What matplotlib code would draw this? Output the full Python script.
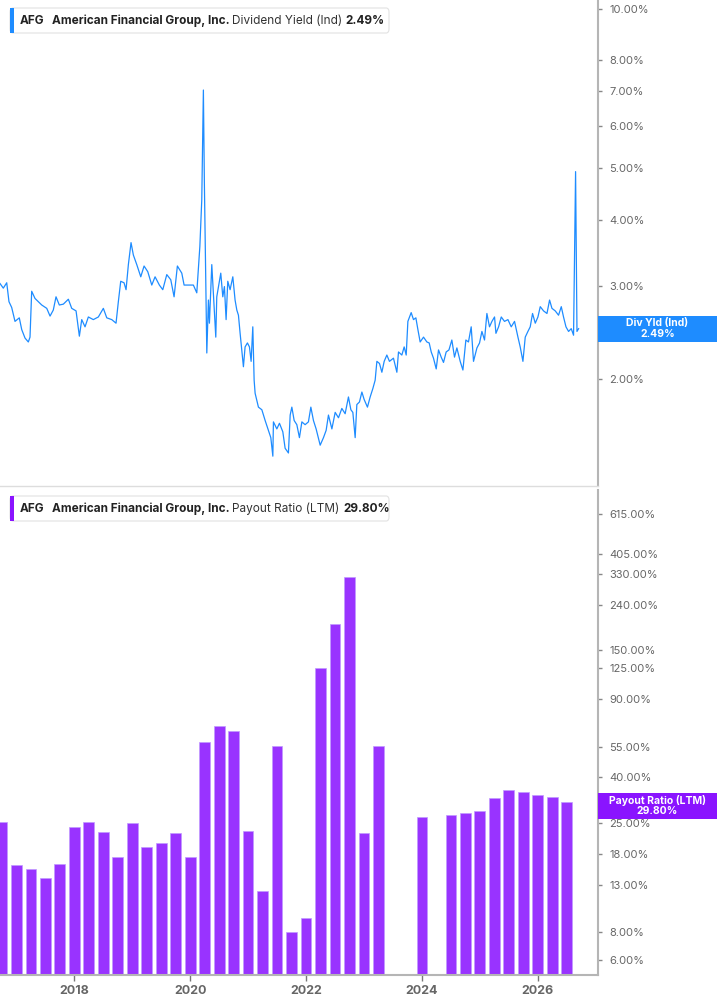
import numpy as np
import matplotlib.pyplot as plt
from matplotlib.patches import Rectangle, FancyBboxPatch
from matplotlib.ticker import FixedLocator, NullLocator

plt.rcParams['font.family'] = ['Inter', 'DejaVu Sans']

W, H = 717, 1005

# Dividend yield (Ind), % -- dates as decimal years
yld_dates = [
    2016.717, 2016.774, 2016.833, 2016.872, 2016.919, 2016.976, 2017.050, 2017.092, 2017.149, 2017.206,
    2017.235, 2017.264, 2017.321, 2017.378, 2017.437, 2017.524, 2017.581, 2017.637, 2017.684, 2017.741,
    2017.810, 2017.897, 2017.955, 2018.030, 2018.087, 2018.128, 2018.185, 2018.242, 2018.328, 2018.415,
    2018.501, 2018.560, 2018.646, 2018.720, 2018.760, 2018.801, 2018.858, 2018.893, 2018.933, 2018.979,
    2019.019, 2019.078, 2019.147, 2019.204, 2019.268, 2019.337, 2019.394, 2019.468, 2019.527, 2019.596,
    2019.665, 2019.722, 2019.779, 2019.855, 2019.895, 2019.969, 2020.055, 2020.114, 2020.167, 2020.200,
    2020.228, 2020.245, 2020.275, 2020.287, 2020.315, 2020.332, 2020.373, 2020.413, 2020.442, 2020.459,
    2020.499, 2020.528, 2020.563, 2020.591, 2020.620, 2020.649, 2020.689, 2020.736, 2020.775, 2020.805,
    2020.833, 2020.862, 2020.891, 2020.919, 2020.948, 2020.988, 2021.023, 2021.052, 2021.081, 2021.104,
    2021.121, 2021.178, 2021.237, 2021.294, 2021.351, 2021.392, 2021.427, 2021.437, 2021.496, 2021.541,
    2021.599, 2021.639, 2021.696, 2021.726, 2021.755, 2021.795, 2021.841, 2021.886, 2021.928, 2021.984,
    2022.041, 2022.083, 2022.128, 2022.174, 2022.244, 2022.301, 2022.347, 2022.387, 2022.446, 2022.503,
    2022.560, 2022.618, 2022.675, 2022.732, 2022.774, 2022.808, 2022.848, 2022.877, 2022.922, 2022.964,
    2023.003, 2023.060, 2023.107, 2023.154, 2023.193, 2023.223, 2023.268, 2023.309, 2023.349, 2023.395,
    2023.440, 2023.509, 2023.568, 2023.596, 2023.654, 2023.694, 2023.729, 2023.758, 2023.815, 2023.855,
    2023.896, 2023.931, 2023.970, 2024.028, 2024.086, 2024.126, 2024.161, 2024.200, 2024.247, 2024.287,
    2024.333, 2024.373, 2024.419, 2024.467, 2024.517, 2024.563, 2024.604, 2024.661, 2024.708, 2024.759,
    2024.804, 2024.851, 2024.891, 2024.950, 2024.995, 2025.036, 2025.081, 2025.122, 2025.167, 2025.209,
    2025.254, 2025.278, 2025.324, 2025.370, 2025.426, 2025.485, 2025.542, 2025.599, 2025.658, 2025.697,
    2025.744, 2025.784, 2025.830, 2025.870, 2025.910, 2025.957, 2026.003, 2026.043, 2026.100, 2026.159,
    2026.204, 2026.245, 2026.302, 2026.359, 2026.406, 2026.445, 2026.487, 2026.532, 2026.578, 2026.618,
    2026.653, 2026.677, 2026.705,
]
yld_vals = [
    3.03, 2.97, 3.04, 2.80, 2.73, 2.57, 2.61, 2.48, 2.39, 2.35,
    2.40, 2.93, 2.84, 2.80, 2.76, 2.72, 2.63, 2.70, 2.86, 2.76,
    2.77, 2.83, 2.72, 2.69, 2.41, 2.59, 2.51, 2.62, 2.59, 2.62,
    2.72, 2.61, 2.59, 2.55, 2.80, 3.06, 3.04, 2.95, 3.29, 3.62,
    3.43, 3.29, 3.12, 3.27, 3.19, 3.01, 3.12, 3.01, 2.95, 3.15,
    3.08, 2.86, 3.27, 3.17, 3.01, 3.01, 3.01, 2.91, 3.56, 4.36,
    7.03, 4.69, 2.70, 2.24, 2.82, 2.55, 3.29, 2.74, 2.40, 2.86,
    3.04, 3.17, 2.86, 2.99, 2.59, 3.06, 2.95, 3.12, 2.82, 2.70,
    2.64, 2.44, 2.27, 2.11, 2.30, 2.34, 2.30, 2.16, 2.51, 1.99,
    1.88, 1.77, 1.75, 1.67, 1.60, 1.55, 1.43, 1.66, 1.61, 1.65,
    1.59, 1.48, 1.45, 1.71, 1.77, 1.67, 1.64, 1.55, 1.66, 1.64,
    1.66, 1.77, 1.67, 1.61, 1.50, 1.55, 1.60, 1.71, 1.61, 1.73,
    1.69, 1.76, 1.72, 1.85, 1.75, 1.73, 1.55, 1.79, 1.81, 1.89,
    1.83, 1.77, 1.85, 1.92, 1.99, 2.16, 2.14, 2.06, 2.16, 2.22,
    2.16, 2.19, 2.06, 2.25, 2.22, 2.30, 2.22, 2.57, 2.67, 2.59,
    2.61, 2.48, 2.35, 2.40, 2.35, 2.34, 2.25, 2.19, 2.09, 2.27,
    2.20, 2.15, 2.25, 2.27, 2.37, 2.20, 2.29, 2.16, 2.08, 2.37,
    2.35, 2.51, 2.16, 2.29, 2.34, 2.46, 2.37, 2.66, 2.51, 2.57,
    2.62, 2.44, 2.51, 2.62, 2.57, 2.59, 2.51, 2.57, 2.40, 2.30,
    2.16, 2.40, 2.46, 2.51, 2.66, 2.55, 2.62, 2.74, 2.69, 2.66,
    2.82, 2.72, 2.69, 2.64, 2.74, 2.62, 2.51, 2.46, 2.49, 2.42,
    4.93, 2.46, 2.49,
]

# Payout ratio (LTM), % -- quarterly
pay_dates = [
    2016.75, 2017.00, 2017.25, 2017.50, 2017.75, 2018.00, 2018.25, 2018.50, 2018.75, 2019.00,
    2019.25, 2019.50, 2019.75, 2020.00, 2020.25, 2020.50, 2020.75, 2021.00, 2021.25, 2021.50,
    2021.75, 2022.00, 2022.25, 2022.50, 2022.75, 2023.00, 2023.25, 2024.00, 2024.50, 2024.75,
    2025.00, 2025.25, 2025.50, 2025.75, 2026.00, 2026.25, 2026.50,
]
pay_vals = [
    24.1, 15.1, 14.4, 13.0, 15.3, 22.8, 24.1, 21.7, 16.5, 23.9,
    18.4, 19.2, 21.5, 16.4, 56.6, 67.4, 63.8, 22.0, 11.3, 54.6,
    7.0, 8.25, 123.0, 196.0, 319.0, 21.5, 54.3, 25.5, 25.9, 26.5,
    27.3, 31.3, 33.9, 33.4, 32.2, 31.7, 29.8,
]

yld_ticks = [2, 3, 4, 5, 6, 7, 8, 10]
pay_ticks = [6, 8, 13, 18, 25, 40, 55, 90, 125, 150, 240, 330, 405, 615]
year_ticks = [2018, 2020, 2022, 2024, 2026]

ticker = "AFG"
company = "American Financial Group, Inc."

BLUE = '#1e8cff'
PURPLE = '#9933ff'
PURPLE_DARK = '#8a14ff'


def px(x, y):
    # pixel position (top-left origin) -> figure fraction
    return x / W, 1 - y / H


fig = plt.figure(figsize=(W / 100, H / 100), dpi=100)
ax1 = fig.add_axes([0, 1 - 486 / H, 598 / W, 486 / H])
ax2 = fig.add_axes([0, 1 - 975 / H, 598 / W, 485 / H], sharex=ax1)

# top panel: dividend yield line
ax1.plot(yld_dates, yld_vals, color=BLUE, lw=0.9)
ax1.set_yscale('log')
ax1.set_ylim(1.256, 10.4)
ax1.set_xlim(2016.717, 2027.04)

# bottom panel: payout ratio bars
ax2.bar(pay_dates, pay_vals, width=0.185, bottom=1, color=PURPLE,
        edgecolor='#c09aff', linewidth=0.5)
ax2.set_yscale('log')
ax2.set_ylim(5.13, 791)

for ax, ticks in [(ax1, yld_ticks), (ax2, pay_ticks)]:
    ax.yaxis.tick_right()
    ax.yaxis.set_major_locator(FixedLocator(ticks))
    ax.yaxis.set_minor_locator(NullLocator())
    ax.set_yticklabels([f'{t:.2f}%' for t in ticks])
    ax.tick_params(axis='y', which='major', length=3, width=1, color='#888888',
                   labelcolor='#666666', labelsize=8, pad=5)
    ax.spines['left'].set_visible(False)
    ax.spines['top'].set_visible(False)
    ax.spines['right'].set_color('#b5b5b5')
    ax.spines['right'].set_linewidth(1.5)
    ax.set_facecolor('none')

ax1.tick_params(axis='x', bottom=False, labelbottom=False)
ax1.spines['bottom'].set_color('#dddddd')
ax1.spines['bottom'].set_linewidth(1)

ax2.set_xticks(year_ticks, labels=[str(y) for y in year_ticks], fontweight='bold')
ax2.xaxis.set_minor_locator(NullLocator())
ax2.tick_params(axis='x', length=4, width=1, color='#777777', labelcolor='#666666',
                labelsize=9, pad=3)
ax2.spines['bottom'].set_color('#b5b5b5')
ax2.spines['bottom'].set_linewidth(1.5)


# legend boxes at the top left of each panel
def legend_box(top, color, metric, value):
    x0, y0 = px(10, top + 25)
    box = FancyBboxPatch((x0, y0), 379 / W, 25 / H, boxstyle='round,pad=0,rounding_size=0.004',
                         transform=fig.transFigure, facecolor='white', edgecolor='#e2e2e2', lw=0.8)
    fig.patches.append(box)
    bx, by = px(10, top + 25)
    fig.patches.append(Rectangle((bx, by), 3.5 / W, 25 / H, transform=fig.transFigure,
                                 facecolor=color, edgecolor='none'))
    ty = top + 12.8
    fig.text(*px(20, ty), ticker, fontsize=8.5, fontweight='bold', color='#222222', va='center')
    fig.text(*px(52.5, ty), company, fontsize=8.5, fontweight='bold', color='#222222', va='center')
    fig.text(*px(232, ty), metric, fontsize=8.5, color='#333333', va='center')
    fig.text(*px(value[1], ty), value[0], fontsize=8.5, fontweight='bold', color='#222222', va='center')


legend_box(8, BLUE, 'Dividend Yield (Ind)', ('2.49%', 345.5))
legend_box(496, PURPLE_DARK, 'Payout Ratio (LTM)', ('29.80%', 343))


# last-value labels on the right axis
def value_tag(ax, xval, yval, color, name, text):
    _, ydisp = ax.transData.transform((xval, yval))
    yc = 1 - ydisp / H  # to top-origin fraction
    ypix = yc * H
    x0, y0 = px(598, ypix + 13)
    fig.patches.append(Rectangle((x0, y0), (W - 598) / W, 26 / H, transform=fig.transFigure,
                                 facecolor=color, edgecolor='none', zorder=5))
    fig.text(*px(657.5, ypix - 5.5), name, fontsize=7.5, fontweight='bold', color='white',
             ha='center', va='center', zorder=6)
    fig.text(*px(657.5, ypix + 5.5), text, fontsize=7.5, fontweight='bold', color='white',
             ha='center', va='center', zorder=6)


value_tag(ax1, yld_dates[-1], yld_vals[-1], BLUE, 'Div Yld (Ind)', f'{yld_vals[-1]:.2f}%')
value_tag(ax2, pay_dates[-1], pay_vals[-1], PURPLE_DARK, 'Payout Ratio (LTM)', f'{pay_vals[-1]:.2f}%')

fig.savefig('out.png', dpi=100)
